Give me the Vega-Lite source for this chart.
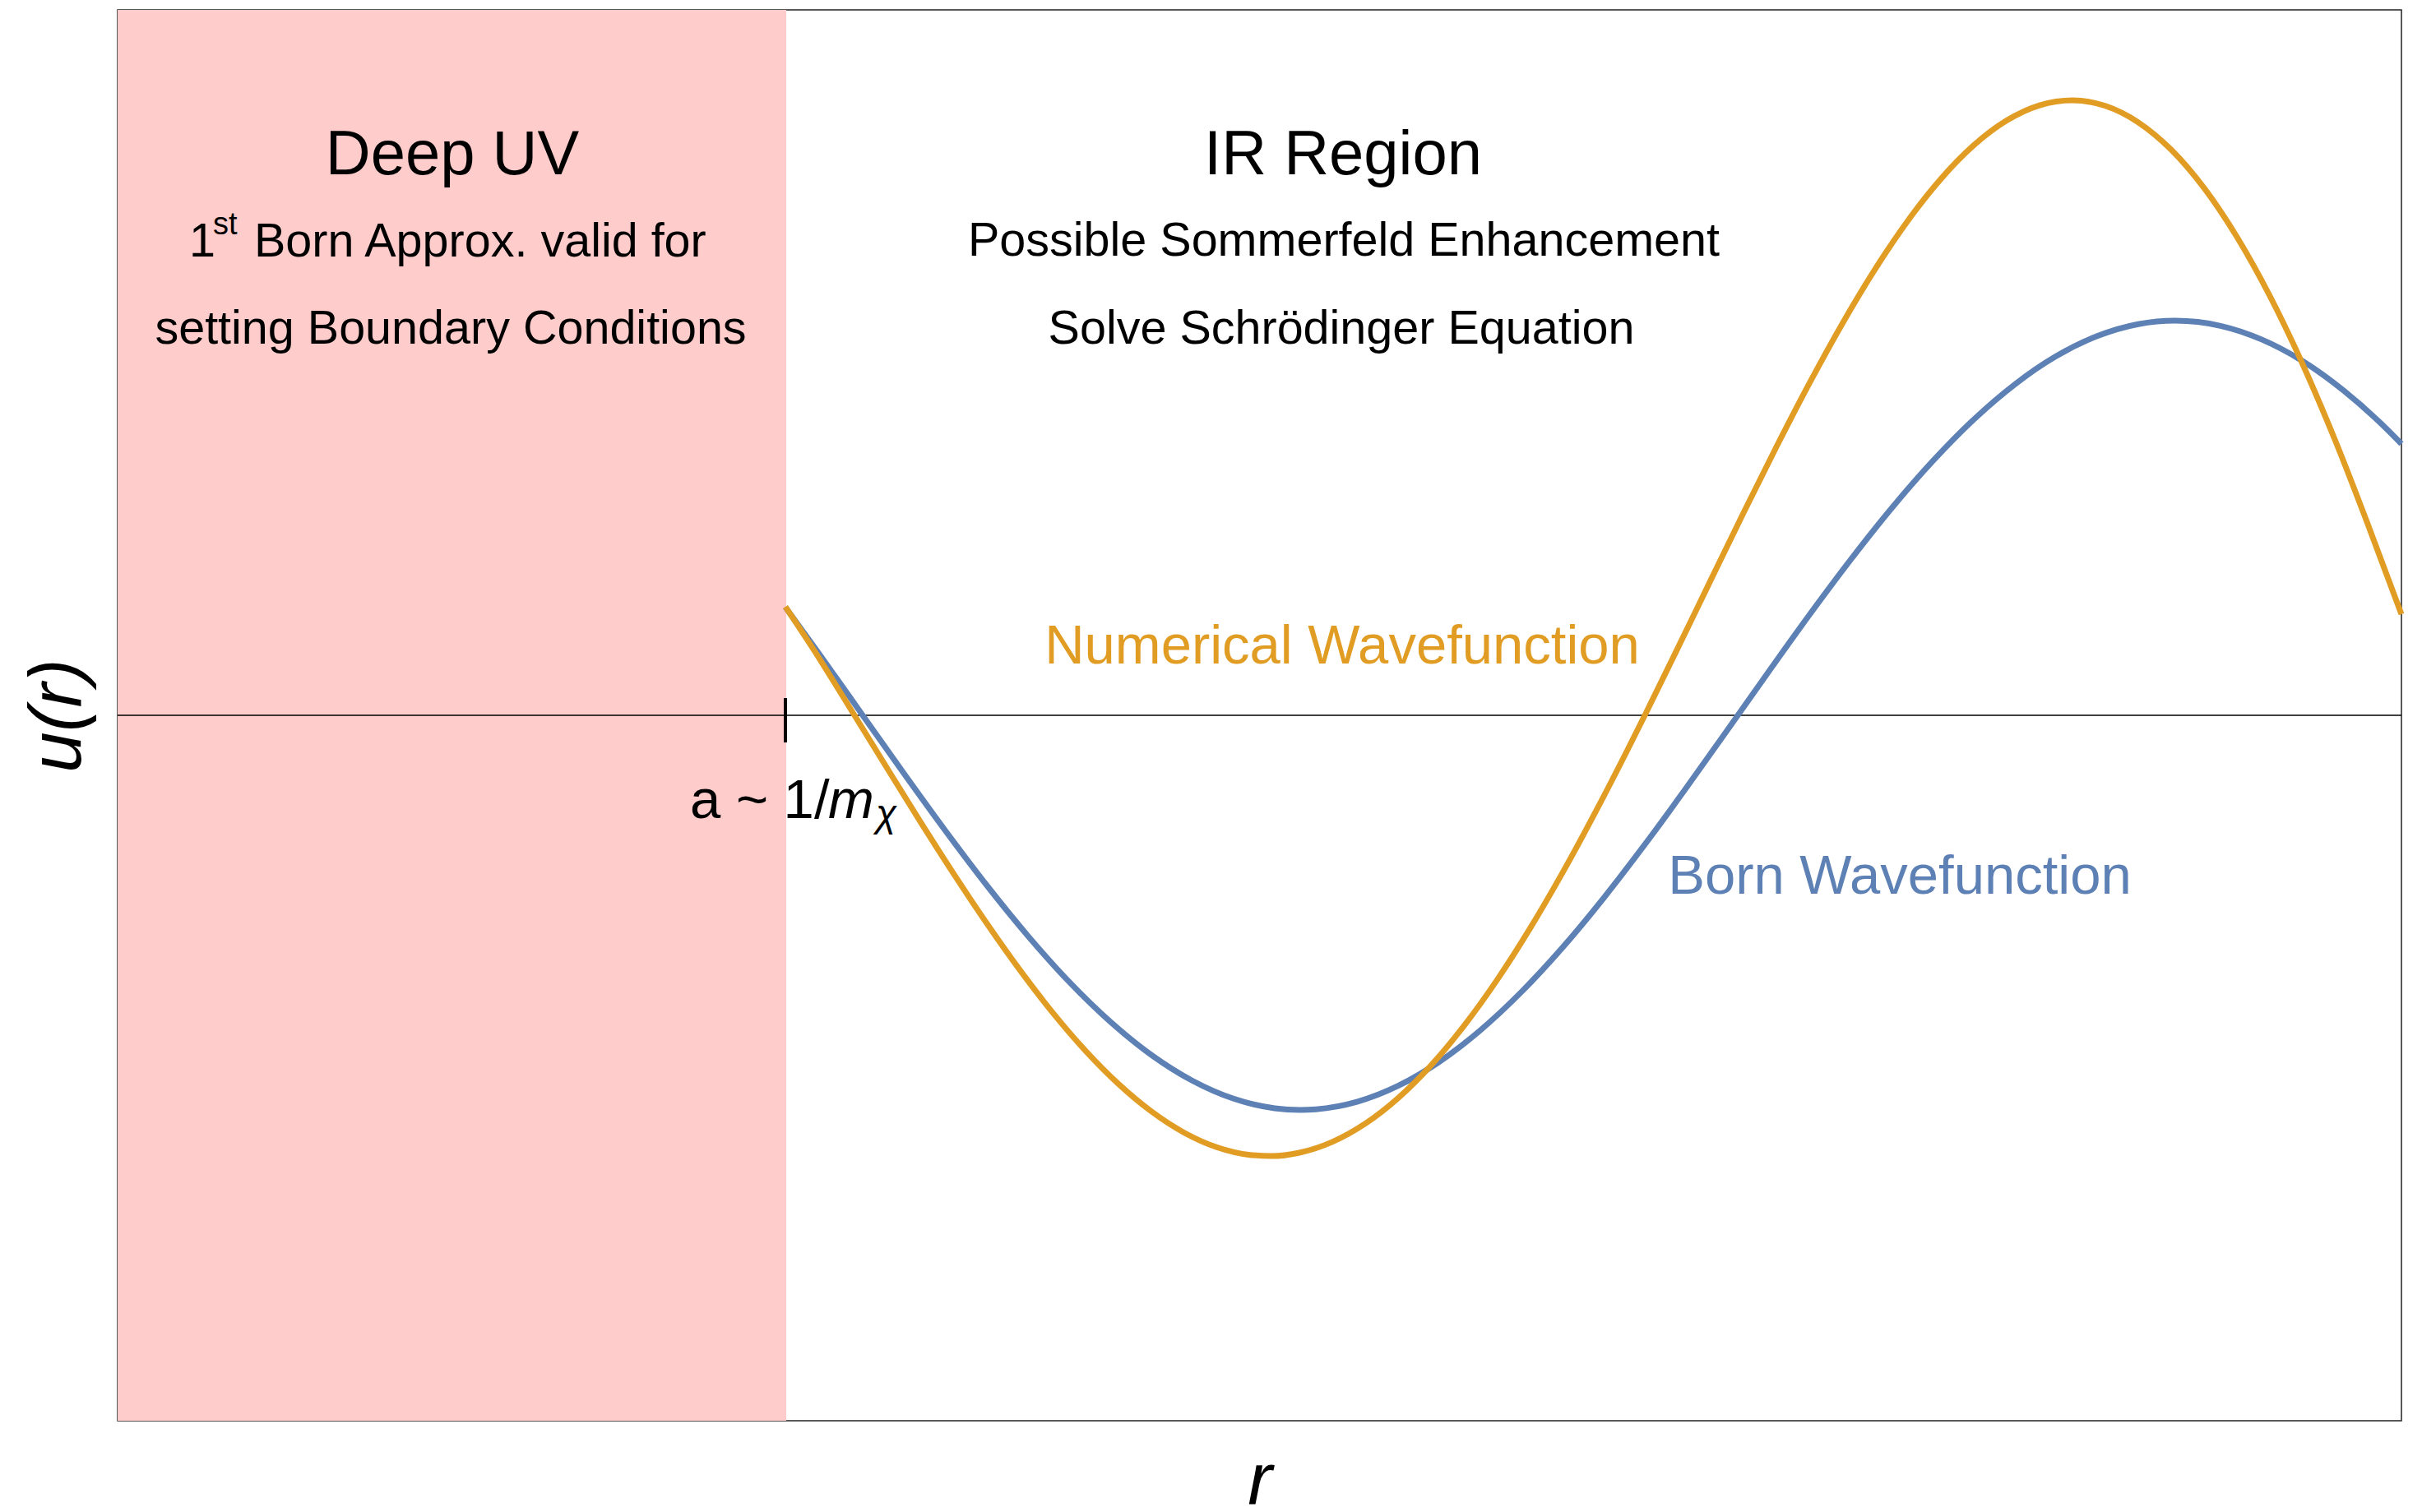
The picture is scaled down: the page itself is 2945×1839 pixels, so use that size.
{
  "$schema": "https://vega.github.io/schema/vega-lite/v6.json",
  "width": 2777,
  "height": 1716,
  "autosize": "none",
  "padding": {"left": 143, "top": 12, "right": 25, "bottom": 111},
  "background": "white",
  "config": {
    "view": {"stroke": "#222222", "strokeWidth": 1.5},
    "axis": {"domain": false, "ticks": false, "labels": false, "grid": false, "tickSize": 0,
             "titleFont": "Liberation Sans", "titleFontStyle": "italic", "titleFontWeight": "normal",
             "titleFontSize": 89, "titleColor": "black"},
    "text": {"font": "Liberation Sans", "baseline": "alphabetic"}
  },
  "datasets": {
    "region": [{"r": 0, "r2": 8.13, "u": -8.58, "u2": 8.58}],
    "axisline": [{"r": 0, "r2": 27.77, "u": 0}],
    "tick": [{"r": 8.12, "u": 0.21, "u2": -0.33}],
    "curves": [
      {"series": "Born", "r": 8.12, "u": 1.315},
      {"series": "Born", "r": 8.57, "u": 0.692},
      {"series": "Born", "r": 9.07, "u": -0.014},
      {"series": "Born", "r": 9.57, "u": -0.720},
      {"series": "Born", "r": 10.07, "u": -1.410},
      {"series": "Born", "r": 10.57, "u": -2.070},
      {"series": "Born", "r": 11.07, "u": -2.684},
      {"series": "Born", "r": 11.57, "u": -3.241},
      {"series": "Born", "r": 12.07, "u": -3.726},
      {"series": "Born", "r": 12.57, "u": -4.131},
      {"series": "Born", "r": 13.07, "u": -4.445},
      {"series": "Born", "r": 13.57, "u": -4.663},
      {"series": "Born", "r": 14.07, "u": -4.780},
      {"series": "Born", "r": 14.38, "u": -4.800},
      {"series": "Born", "r": 14.57, "u": -4.792},
      {"series": "Born", "r": 15.07, "u": -4.701},
      {"series": "Born", "r": 15.57, "u": -4.507},
      {"series": "Born", "r": 16.07, "u": -4.215},
      {"series": "Born", "r": 16.57, "u": -3.831},
      {"series": "Born", "r": 17.07, "u": -3.364},
      {"series": "Born", "r": 17.57, "u": -2.824},
      {"series": "Born", "r": 18.07, "u": -2.222},
      {"series": "Born", "r": 18.57, "u": -1.572},
      {"series": "Born", "r": 19.07, "u": -0.888},
      {"series": "Born", "r": 19.57, "u": -0.184},
      {"series": "Born", "r": 20.07, "u": 0.523},
      {"series": "Born", "r": 20.57, "u": 1.220},
      {"series": "Born", "r": 21.07, "u": 1.889},
      {"series": "Born", "r": 21.57, "u": 2.518},
      {"series": "Born", "r": 22.07, "u": 3.091},
      {"series": "Born", "r": 22.57, "u": 3.598},
      {"series": "Born", "r": 23.07, "u": 4.026},
      {"series": "Born", "r": 23.57, "u": 4.367},
      {"series": "Born", "r": 24.07, "u": 4.612},
      {"series": "Born", "r": 24.57, "u": 4.758},
      {"series": "Born", "r": 25.02, "u": 4.800},
      {"series": "Born", "r": 25.57, "u": 4.737},
      {"series": "Born", "r": 26.07, "u": 4.571},
      {"series": "Born", "r": 26.57, "u": 4.307},
      {"series": "Born", "r": 27.07, "u": 3.947},
      {"series": "Born", "r": 27.57, "u": 3.503},
      {"series": "Born", "r": 27.77, "u": 3.302},
      {"series": "Numerical", "r": 8.12, "u": 1.32},
      {"series": "Numerical", "r": 8.47, "u": 0.789},
      {"series": "Numerical", "r": 8.96, "u": 0.0},
      {"series": "Numerical", "r": 9.37, "u": -0.665},
      {"series": "Numerical", "r": 9.77, "u": -1.308},
      {"series": "Numerical", "r": 10.17, "u": -1.934},
      {"series": "Numerical", "r": 10.57, "u": -2.533},
      {"series": "Numerical", "r": 10.97, "u": -3.097},
      {"series": "Numerical", "r": 11.37, "u": -3.616},
      {"series": "Numerical", "r": 11.77, "u": -4.081},
      {"series": "Numerical", "r": 12.17, "u": -4.484},
      {"series": "Numerical", "r": 12.57, "u": -4.818},
      {"series": "Numerical", "r": 12.97, "u": -5.077},
      {"series": "Numerical", "r": 13.37, "u": -5.255},
      {"series": "Numerical", "r": 13.77, "u": -5.347},
      {"series": "Numerical", "r": 14.03, "u": -5.361},
      {"series": "Numerical", "r": 14.37, "u": -5.320},
      {"series": "Numerical", "r": 14.77, "u": -5.189},
      {"series": "Numerical", "r": 15.17, "u": -4.967},
      {"series": "Numerical", "r": 15.57, "u": -4.656},
      {"series": "Numerical", "r": 15.97, "u": -4.259},
      {"series": "Numerical", "r": 16.37, "u": -3.779},
      {"series": "Numerical", "r": 16.77, "u": -3.224},
      {"series": "Numerical", "r": 17.17, "u": -2.599},
      {"series": "Numerical", "r": 17.57, "u": -1.914},
      {"series": "Numerical", "r": 17.97, "u": -1.177},
      {"series": "Numerical", "r": 18.37, "u": -0.400},
      {"series": "Numerical", "r": 18.57, "u": 0.0},
      {"series": "Numerical", "r": 18.97, "u": 0.816},
      {"series": "Numerical", "r": 19.37, "u": 1.641},
      {"series": "Numerical", "r": 19.77, "u": 2.462},
      {"series": "Numerical", "r": 20.17, "u": 3.265},
      {"series": "Numerical", "r": 20.57, "u": 4.036},
      {"series": "Numerical", "r": 20.97, "u": 4.761},
      {"series": "Numerical", "r": 21.37, "u": 5.426},
      {"series": "Numerical", "r": 21.77, "u": 6.018},
      {"series": "Numerical", "r": 22.17, "u": 6.524},
      {"series": "Numerical", "r": 22.57, "u": 6.933},
      {"series": "Numerical", "r": 22.97, "u": 7.234},
      {"series": "Numerical", "r": 23.37, "u": 7.419},
      {"series": "Numerical", "r": 23.77, "u": 7.480},
      {"series": "Numerical", "r": 24.17, "u": 7.412},
      {"series": "Numerical", "r": 24.57, "u": 7.212},
      {"series": "Numerical", "r": 24.97, "u": 6.879},
      {"series": "Numerical", "r": 25.37, "u": 6.413},
      {"series": "Numerical", "r": 25.77, "u": 5.818},
      {"series": "Numerical", "r": 26.17, "u": 5.100},
      {"series": "Numerical", "r": 26.57, "u": 4.268},
      {"series": "Numerical", "r": 26.97, "u": 3.330},
      {"series": "Numerical", "r": 27.37, "u": 2.301},
      {"series": "Numerical", "r": 27.77, "u": 1.230}
    ],
    "heading": [
      {"r": 4.07, "u": 6.58, "label": "Deep UV"},
      {"r": 14.90, "u": 6.58, "label": "IR Region"}
    ],
    "notes": [
      {"r": 4.05, "u": 4.52, "label": "setting Boundary Conditions"},
      {"r": 14.91, "u": 5.59, "label": "Possible Sommerfeld Enhancement"},
      {"r": 14.88, "u": 4.52, "label": "Solve Schrödinger Equation"}
    ],
    "bornline": [{"r": 1.66, "u": 5.58, "label": "Born Approx. valid for"}],
    "one": [{"r": 0.87, "u": 5.58, "label": "1"}],
    "sup": [{"r": 1.16, "u": 5.85, "label": "st"}],
    "numlabel": [{"r": 14.89, "u": 0.63, "label": "Numerical Wavefunction"}],
    "bornlabel": [{"r": 21.67, "u": -2.17, "label": "Born Wavefunction"}],
    "alabel": [{"r": 6.96, "u": -1.25, "label": "a ~ 1/"}],
    "mlabel": [{"r": 8.64, "u": -1.25, "label": "m"}],
    "chilabel": [{"r": 9.22, "u": -1.35, "label": "χ"}]
  },
  "encoding": {
    "x": {"field": "r", "type": "quantitative",
          "scale": {"domain": [0, 27.77], "nice": false, "zero": false},
          "axis": {"title": "r", "titlePadding": 30}},
    "y": {"field": "u", "type": "quantitative",
          "scale": {"domain": [-8.58, 8.58], "nice": false, "zero": false},
          "axis": {"title": "u(r)", "titlePadding": 27}}
  },
  "layer": [
    {"data": {"name": "region"}, "mark": {"type": "rect", "color": "#FFCCCC"},
     "encoding": {"x2": {"field": "r2"}, "y2": {"field": "u2"}}},
    {"data": {"name": "axisline"}, "mark": {"type": "rule", "color": "black", "strokeWidth": 1.7},
     "encoding": {"x2": {"field": "r2"}}},
    {"data": {"name": "tick"}, "mark": {"type": "rule", "color": "black", "strokeWidth": 4},
     "encoding": {"y2": {"field": "u2"}}},
    {"data": {"name": "curves"}, "transform": [{"filter": "datum.series == 'Born'"}],
     "mark": {"type": "line", "color": "#5E81B5", "strokeWidth": 7, "interpolate": "monotone"},
     "encoding": {"order": {"field": "r", "type": "quantitative"}}},
    {"data": {"name": "curves"}, "transform": [{"filter": "datum.series == 'Numerical'"}],
     "mark": {"type": "line", "color": "#E19C24", "strokeWidth": 7, "interpolate": "monotone"},
     "encoding": {"order": {"field": "r", "type": "quantitative"}}},
    {"data": {"name": "heading"}, "mark": {"type": "text", "fontSize": 76, "align": "center", "color": "black"},
     "encoding": {"text": {"field": "label"}}},
    {"data": {"name": "notes"}, "mark": {"type": "text", "fontSize": 57.5, "align": "center", "color": "black"},
     "encoding": {"text": {"field": "label"}}},
    {"data": {"name": "bornline"}, "mark": {"type": "text", "fontSize": 57.5, "align": "left", "color": "black"},
     "encoding": {"text": {"field": "label"}}},
    {"data": {"name": "one"}, "mark": {"type": "text", "fontSize": 57.5, "align": "left", "color": "black"},
     "encoding": {"text": {"field": "label"}}},
    {"data": {"name": "sup"}, "mark": {"type": "text", "fontSize": 38, "align": "left", "color": "black"},
     "encoding": {"text": {"field": "label"}}},
    {"data": {"name": "numlabel"}, "mark": {"type": "text", "fontSize": 67, "align": "center", "color": "#E19C24"},
     "encoding": {"text": {"field": "label"}}},
    {"data": {"name": "bornlabel"}, "mark": {"type": "text", "fontSize": 67, "align": "center", "color": "#5E81B5"},
     "encoding": {"text": {"field": "label"}}},
    {"data": {"name": "alabel"}, "mark": {"type": "text", "fontSize": 67, "align": "left", "color": "black"},
     "encoding": {"text": {"field": "label"}}},
    {"data": {"name": "mlabel"}, "mark": {"type": "text", "fontSize": 67, "align": "left", "fontStyle": "italic", "color": "black"},
     "encoding": {"text": {"field": "label"}}},
    {"data": {"name": "chilabel"}, "mark": {"type": "text", "fontSize": 46, "align": "left", "fontStyle": "italic", "color": "black"},
     "encoding": {"text": {"field": "label"}}}
  ]
}
